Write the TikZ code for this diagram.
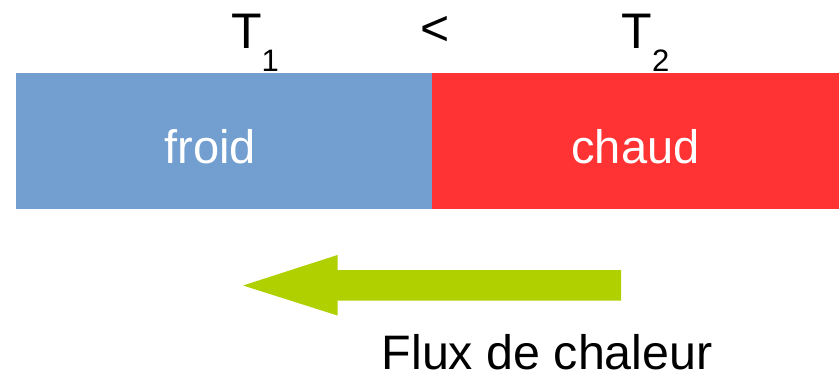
\documentclass[tikz,border=0pt]{standalone}
\usepackage{fontspec}
\setmainfont{Liberation Sans}
\definecolor{coldblue}{HTML}{729FCF}
\definecolor{hotred}{HTML}{FF3333}
\definecolor{fluxgreen}{HTML}{B0D000}
\begin{document}
\begin{tikzpicture}[x=1pt,y=1pt,
  zone/.style={inner sep=0pt, outer sep=0pt, anchor=north west, minimum height=136pt},
  zonelabel/.style={inner sep=0pt, anchor=base, text=white, font=\fontsize{47}{47}\selectfont},
  temp/.style={inner sep=0pt, anchor=base west, font=\fontsize{50}{50}\selectfont}]
  \useasboundingbox (0,0) rectangle (839,-373);
  % the two bodies in contact
  \node[zone, fill=coldblue, minimum width=416pt] (cold) at (16,-73) {};
  \node[zone, fill=hotred, minimum width=407pt] (hot) at (432,-73) {};
  \node[zonelabel] (froid) at (210,-163) {froid};
  \node[zonelabel] (chaud) at (635.5,-163) {chaud};
  % temperatures
  \node[temp] (t1) at (231,-48) {T\raisebox{-23pt}{\fontsize{31}{31}\selectfont 1}};
  \node[temp] (lt) at (420,-45) {<};
  \node[temp] (t2) at (621.5,-48) {T\raisebox{-23pt}{\fontsize{31}{31}\selectfont 2}};
  % heat flow arrow
  \fill[fluxgreen] (621,-270) -- (337.5,-270) -- (337.5,-255) -- (243,-285.5)
    -- (337.5,-315.5) -- (337.5,-300.5) -- (621,-300.5) -- cycle;
  \node[inner sep=0pt, anchor=base west, font=\fontsize{48.4}{48.4}\selectfont] (flux) at (381.5,-369.5) {Flux de chaleur};
\end{tikzpicture}
\end{document}
